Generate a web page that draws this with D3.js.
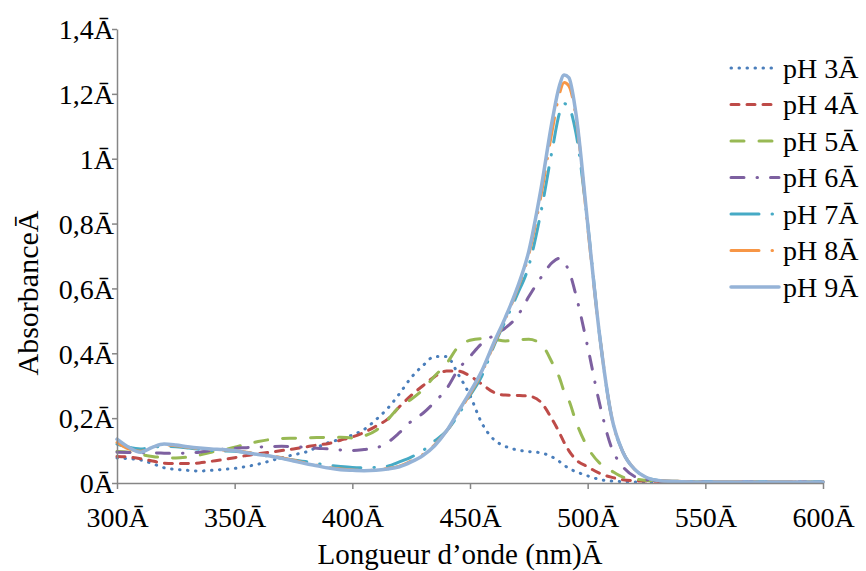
<!DOCTYPE html>
<html>
<head>
<meta charset="utf-8">
<script src="https://cdn.jsdelivr.net/npm/d3@7"></script>
<style>
  html, body { margin: 0; padding: 0; background: #ffffff; }
  svg { display: block; }
  text { font-family: "Liberation Serif", "Times New Roman", serif; fill: #000; }
</style>
</head>
<body>
<svg id="chart" width="866" height="571"></svg>
<script>
// ---- Data ----
const wavelengths = [300,305,310,315,320,325,330,335,340,345,350,355,360,365,370,375,380,385,390,395,400,405,410,415,420,425,430,435,440,445,450,455,460,465,470,475,480,485,488,490,492,495,500,505,510,515,520,525,530,540,550,560,570,580,590,600];

const seriesNames = ["pH 3Ā","pH 4Ā","pH 5Ā","pH 6Ā","pH 7Ā","pH 8Ā","pH 9Ā"];

const pH3 = [.077,.075,.071,.06,.047,.042,.039,.037,.039,.042,.045,.051,.058,.068,.078,.087,.095,.11,.125,.135,.148,.165,.195,.23,.275,.325,.362,.39,.39,.335,.27,.185,.135,.113,.102,.097,.093,.08,.066,.055,.045,.035,.022,.011,.006,.004,.003,.003,.003,.003,.003,.003,.003,.003,.003,.003];
const pH4 = [.082,.08,.075,.068,.061,.06,.06,.062,.067,.072,.078,.085,.09,.095,.1,.105,.111,.117,.122,.132,.142,.156,.175,.197,.235,.27,.3,.328,.345,.345,.33,.305,.28,.271,.27,.268,.25,.195,.155,.125,.1,.072,.05,.03,.018,.01,.007,.006,.005,.004,.004,.004,.004,.004,.004,.004];
const pH5 = [.097,.095,.088,.082,.078,.077,.08,.086,.095,.102,.11,.12,.128,.134,.137,.138,.139,.14,.141,.141,.139,.145,.162,.195,.235,.258,.288,.33,.368,.42,.44,.445,.443,.438,.442,.443,.43,.37,.325,.282,.255,.19,.11,.062,.038,.018,.012,.008,.006,.004,.004,.004,.004,.004,.004,.004];
const pH6 = [.095,.094,.093,.093,.092,.091,.093,.095,.1,.104,.107,.109,.111,.112,.113,.112,.11,.107,.105,.102,.1,.103,.108,.125,.155,.19,.215,.25,.29,.35,.39,.43,.455,.478,.513,.575,.632,.68,.693,.68,.655,.58,.42,.247,.112,.05,.02,.01,.006,.004,.004,.004,.004,.004,.004,.004];
const pH7 = [.12,.11,.105,.11,.113,.112,.108,.104,.1,.099,.098,.094,.088,.082,.076,.071,.066,.06,.055,.051,.048,.047,.048,.052,.065,.08,.1,.13,.16,.21,.27,.33,.42,.5,.58,.67,.83,1.03,1.14,1.17,1.16,1.08,.8,.46,.21,.095,.042,.017,.008,.005,.004,.004,.004,.004,.004,.004];
const pH8 = [.125,.105,.098,.11,.118,.115,.11,.106,.104,.102,.1,.095,.09,.084,.078,.07,.062,.055,.048,.043,.04,.039,.04,.045,.052,.068,.088,.118,.16,.215,.275,.34,.425,.505,.595,.705,.88,1.09,1.2,1.235,1.225,1.13,.79,.46,.21,.095,.042,.017,.008,.005,.004,.004,.004,.004,.004,.004];
const pH9 = [.135,.11,.095,.11,.12,.117,.112,.108,.105,.103,.1,.093,.088,.083,.076,.068,.06,.053,.046,.041,.039,.038,.039,.043,.05,.065,.085,.115,.16,.22,.28,.345,.43,.51,.6,.715,.9,1.12,1.225,1.258,1.25,1.14,.8,.46,.21,.095,.042,.017,.008,.004,.003,.003,.003,.003,.003,.003];

const xTicks = [300,350,400,450,500,550,600];
const xTickLabels = ["300Ā","350Ā","400Ā","450Ā","500Ā","550Ā","600Ā"];
const yTicks = [0,0.2,0.4,0.6,0.8,1,1.2,1.4];
const yTickLabels = ["0Ā","0,2Ā","0,4Ā","0,6Ā","0,8Ā","1Ā","1,2Ā","1,4Ā"];

const colors = ["#4a7ebb","#be4b48","#98b954","#7d60a0","#46aac5","#f79646","#95b3d7"];
const dashes = ["0.5 7.5","8 8","13 15","13 13 0.5 13","28 13 0.5 13","28 13 0.5 13","none"];
const widths = [3,3,3,3,3,3,3.5];

// ---- Chart ----
const svg = d3.select("#chart");
const x = d3.scaleLinear().domain([300,600]).range([117,823]);
const y = d3.scaleLinear().domain([0,1.4]).range([483,29]);

const allSeries = [pH3,pH4,pH5,pH6,pH7,pH8,pH9];

const line = d3.line()
  .x((d,i) => x(wavelengths[i]))
  .y(d => y(d))
  .curve(d3.curveMonotoneX);

allSeries.forEach((vals, k) => {
  svg.append("path")
    .datum(vals)
    .attr("d", line)
    .attr("fill","none")
    .attr("stroke", colors[k])
    .attr("stroke-width", widths[k])
    .attr("stroke-linecap","round")
    .attr("stroke-linejoin","round")
    .attr("stroke-dasharray", dashes[k]);
});

// axes
const axisColor = "#868686";
const xAxis = svg.append("g")
  .attr("transform","translate(0,483)")
  .call(d3.axisBottom(x).tickValues(xTicks).tickSize(6).tickSizeOuter(0)
        .tickFormat((d,i) => xTickLabels[i]));
const yAxis = svg.append("g")
  .attr("transform","translate(117,0)")
  .call(d3.axisLeft(y).tickValues(yTicks).tickSize(5).tickSizeOuter(0)
        .tickFormat((d,i) => yTickLabels[i]));

[xAxis, yAxis].forEach(g => {
  g.select(".domain").attr("stroke", axisColor).attr("stroke-width", 1.5);
  g.selectAll(".tick line").attr("stroke", axisColor).attr("stroke-width", 1.5);
  g.selectAll(".tick text")
    .attr("fill","#000")
    .style("font-family","'Liberation Serif', serif")
    .style("font-size","28px");
});
xAxis.selectAll(".tick text").attr("y", 24).attr("dy","0.71em");
yAxis.selectAll(".tick text").attr("x", -3).attr("dy","0.35em");

// axis titles
svg.append("text")
  .attr("x", 460).attr("y", 564)
  .attr("text-anchor","middle")
  .style("font-size","29px")
  .text("Longueur d’onde (nm)Ā");

svg.append("text")
  .attr("transform","translate(38,293) rotate(-90)")
  .attr("text-anchor","middle")
  .style("font-size","30px")
  .text("AbsorbanceĀ");

// legend
const legend = svg.append("g");
seriesNames.forEach((name, k) => {
  const cy = 68 + k * 36.5;
  legend.append("line")
    .attr("x1", 731).attr("x2", 779)
    .attr("y1", cy).attr("y2", cy)
    .attr("stroke", colors[k])
    .attr("stroke-width", widths[k])
    .attr("stroke-linecap","round")
    .attr("stroke-dasharray", dashes[k]);
  legend.append("text")
    .attr("x", 783).attr("y", cy)
    .attr("dy","0.35em")
    .style("font-size","28px")
    .text(name);
});
</script>
</body>
</html>
